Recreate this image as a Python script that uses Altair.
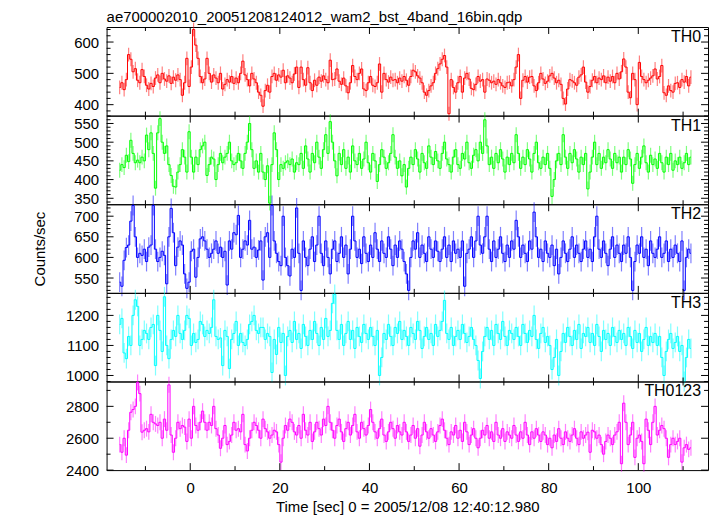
import altair as alt
import pandas as pd

T_START = -15.75
BIN = 0.5

th0 = [
    455, 470, 448, 480, 560, 545, 505, 515, 478, 470, 512, 490, 462, 450, 468, 458,
    485, 495, 470, 500, 482, 475, 492, 468, 488, 478, 495, 480, 430, 470, 548, 458,
    520, 640, 590, 548, 490, 470, 482, 548, 500, 472, 495, 485, 470, 500, 450, 465,
    480, 472, 490, 468, 485, 470, 500, 539, 495, 480, 460, 500, 482, 470, 440, 430,
    395, 445, 462, 440, 490, 500, 478, 495, 488, 510, 470, 492, 485, 470, 498, 520,
    455, 520, 480, 462, 518, 470, 445, 478, 462, 488, 475, 492, 480, 470, 542, 480,
    482, 514, 475, 465, 485, 460, 438, 470, 525, 490, 480, 500, 514, 450, 445, 470,
    490, 462, 458, 470, 530, 440, 500, 480, 472, 488, 478, 480, 470, 485, 475, 490,
    478, 462, 490, 510, 505, 492, 485, 470, 440, 430, 445, 460, 470, 500, 515, 530,
    545, 557, 520, 371, 480, 455, 440, 470, 490, 440, 485, 500, 482, 452, 448, 465,
    490, 475, 480, 440, 482, 478, 470, 475, 465, 480, 470, 460, 455, 470, 472, 460,
    480, 520, 560, 420, 478, 490, 472, 488, 490, 460, 445, 470, 500, 482, 468, 475,
    492, 500, 485, 470, 478, 465, 420, 402, 450, 480, 476, 470, 462, 488, 495, 520,
    472, 440, 458, 478, 490, 470, 485, 480, 492, 470, 488, 475, 490, 470, 500, 482,
    505, 546, 520, 440, 422, 500, 480, 400, 535, 490, 480, 470, 478, 485, 492, 514,
    482, 490, 525, 438, 430, 460, 445, 440, 468, 470, 455, 480, 472, 490, 460, 488,
]
th1 = [
    425, 440, 432, 465, 448, 505, 470, 445, 452, 445, 460, 450, 519, 480, 525, 470,
    377, 525, 563, 500, 470, 490, 440, 411, 382, 380, 420, 440, 480, 460, 420, 528,
    460, 420, 460, 440, 480, 490, 500, 411, 440, 460, 455, 400, 440, 470, 445, 460,
    470, 500, 450, 440, 445, 470, 450, 430, 470, 500, 550, 480, 430, 450, 420, 470,
    420, 400, 437, 337, 440, 525, 480, 400, 440, 430, 445, 450, 440, 455, 420, 445,
    440, 470, 430, 490, 455, 420, 470, 445, 500, 460, 430, 480, 520, 470, 555, 500,
    450, 410, 470, 440, 480, 430, 460, 420, 490, 450, 440, 470, 430, 455, 500, 445,
    420, 470, 450, 395, 440, 480, 460, 430, 445, 470, 520, 460, 430, 450, 410, 440,
    380, 430, 460, 440, 480, 455, 420, 470, 445, 430, 490, 460, 440, 475, 450, 430,
    470, 500, 455, 440, 420, 460, 480, 440, 430, 470, 455, 500, 445, 430, 465, 480,
    450, 500, 470, 560, 490, 440, 460, 430, 470, 445, 480, 455, 420, 460, 440, 470,
    445, 520, 470, 430, 460, 440, 480, 455, 420, 470, 500, 445, 430, 460, 440, 470,
    430, 355, 400, 450, 470, 440, 520, 460, 430, 470, 445, 480, 455, 420, 460, 440,
    470, 375, 420, 460, 500, 440, 470, 430, 460, 445, 480, 455, 430, 470, 445, 460,
    420, 460, 440, 480, 455, 390, 440, 470, 430, 460, 490, 445, 420, 465, 440, 455,
    430, 470, 445, 420, 460, 440, 470, 425, 450, 440, 460, 430, 445, 470, 440, 460,
]
th2 = [
    540, 530, 593, 624, 630, 688, 726, 650, 600, 610, 605, 620, 590, 625, 630, 726,
    620, 590, 600, 615, 605, 536, 650, 719, 660, 580, 625, 640, 630, 560, 525, 540,
    615, 620, 552, 600, 645, 650, 640, 620, 600, 610, 620, 640, 610, 625, 600, 615,
    533, 640, 620, 660, 655, 702, 600, 620, 640, 630, 690, 620, 625, 600, 618, 640,
    545, 650, 660, 600, 726, 640, 610, 590, 580, 700, 600, 580, 555, 620, 600, 720,
    610, 520, 640, 600, 580, 620, 650, 590, 630, 700, 610, 580, 640, 600, 560, 620,
    640, 590, 610, 650, 600, 630, 560, 620, 700, 640, 600, 620, 585, 650, 610, 590,
    630, 600, 660, 620, 590, 640, 610, 600, 650, 620, 580, 630, 600, 640, 620, 590,
    560, 520, 600, 640, 620, 660, 600, 630, 610, 590, 650, 620, 600, 640, 615, 590,
    620, 650, 600, 630, 590, 640, 610, 620, 600, 640, 530, 610, 620, 650, 600, 640,
    700, 630, 610, 650, 700, 620, 590, 640, 600, 620, 650, 610, 590, 630, 600, 640,
    620, 690, 650, 600, 630, 610, 590, 640, 620, 710, 650, 600, 620, 590, 640, 610,
    600, 630, 580, 620, 560, 600, 640, 610, 590, 620, 650, 600, 630, 610, 590, 620,
    640, 600, 620, 590, 650, 700, 620, 600, 640, 610, 580, 620, 650, 600, 630, 610,
    590, 630, 610, 650, 600, 520, 590, 630, 610, 650, 600, 620, 580, 640, 610, 600,
    620, 650, 600, 610, 640, 590, 620, 600, 630, 610, 590, 640, 520, 600, 620, 610,
]
th3 = [
    1170, 1190, 1075, 1056, 1130, 1100, 1200, 1252, 1230, 1100, 1120, 1150, 1140, 1120, 1160, 1170,
    1033, 1200, 1150, 1080, 1262, 1100, 1056, 1120, 1150, 1130, 1200, 1140, 1120, 1150, 1200, 1190,
    1100, 1140, 1110, 1120, 1180, 1170, 1130, 1150, 1140, 1160, 1252, 1130, 1120, 1125, 1033, 1150,
    1130, 1023, 1120, 1140, 1180, 1100, 1140, 1110, 1100, 1120, 1170, 1180, 1200, 1150, 1140, 1160,
    1160, 1120, 1140, 1130, 1010, 1120, 1070, 1160, 1110, 1140, 1000, 1130, 1150, 1110, 1180, 1120,
    1140, 1090, 1170, 1130, 1100, 1150, 1120, 1180, 1140, 1100, 1160, 1120, 1190, 1130, 1150, 1240,
    1270, 1150, 1120, 1170, 1100, 1140, 1180, 1120, 1150, 1090, 1160, 1130, 1110, 1170, 1140, 1120,
    1160, 1130, 1100, 1150, 1000, 1060, 1140, 1120, 1170, 1130, 1100, 1160, 1140, 1180, 1120, 1150,
    1130, 1100, 1160, 1140, 1120, 1180, 1150, 1090, 1130, 1160, 1120, 1140, 1100, 1170, 1130, 1150,
    1180, 1250, 1140, 1120, 1160, 1100, 1130, 1150, 1120, 1170, 1140, 1110, 1130, 1160, 1120, 1100,
    1050, 990, 1080, 1130, 1160, 1120, 1150, 1100, 1170, 1140, 1120, 1180, 1130, 1100, 1150, 1140,
    1120, 1160, 1130, 1100, 1170, 1140, 1110, 1150, 1130, 1200, 1120, 1090, 1140, 1160, 1110, 1130,
    1100, 1020, 1060, 1120, 1000, 1080, 1140, 1110, 1160, 1130, 1100, 1150, 1120, 1170, 1090, 1140,
    1130, 1160, 1110, 1140, 1100, 1170, 1130, 1080, 1150, 1120, 1140, 1100, 1160, 1130, 1110, 1150,
    1120, 1140, 1100, 1160, 1130, 1090, 1150, 1110, 1140, 1080, 1120, 1160, 1100, 1130, 1110, 1140,
    1100, 1130, 1060, 1000, 1080, 1120, 1140, 1090, 1110, 1130, 1080, 1100, 980, 1060, 1120, 1090,
]
th0123 = [
    2560, 2512, 2600, 2494, 2650, 2763, 2780, 2800, 2950, 2880, 2638, 2650, 2660, 2640, 2750, 2700,
    2690, 2680, 2700, 2600, 2720, 2650, 2935, 2620, 2512, 2600, 2700, 2660, 2680, 2670, 2580, 2720,
    2600, 2800, 2680, 2650, 2700, 2770, 2700, 2650, 2700, 2680, 2800, 2660, 2620, 2537, 2600, 2680,
    2560, 2580, 2620, 2700, 2650, 2660, 2640, 2750, 2560, 2520, 2600, 2650, 2700, 2680, 2650, 2600,
    2720, 2660, 2640, 2600, 2620, 2650, 2640, 2560, 2450, 2600, 2680, 2650, 2720, 2700, 2640, 2620,
    2680, 2600, 2750, 2650, 2620, 2700, 2580, 2640, 2700, 2660, 2620, 2720, 2680, 2800, 2700, 2650,
    2600, 2680, 2720, 2640, 2580, 2660, 2700, 2620, 2680, 2750, 2640, 2600, 2700, 2660, 2620, 2680,
    2780, 2700, 2640, 2600, 2660, 2720, 2620, 2580, 2640, 2700, 2660, 2600, 2680, 2640, 2620, 2700,
    2640, 2580, 2620, 2680, 2600, 2660, 2550, 2620, 2700, 2640, 2600, 2660, 2620, 2580, 2640, 2680,
    2720, 2650, 2600, 2560, 2640, 2620, 2680, 2600, 2650, 2580, 2700, 2640, 2560, 2620, 2660, 2600,
    2540, 2600, 2650, 2620, 2680, 2600, 2640, 2580, 2700, 2620, 2600, 2660, 2580, 2640, 2620, 2600,
    2680, 2620, 2580, 2640, 2600, 2700, 2620, 2560, 2640, 2600, 2660, 2620, 2580, 2640, 2620, 2560,
    2600, 2540, 2620, 2580, 2660, 2600, 2560, 2640, 2600, 2580, 2620, 2660, 2600, 2560, 2640, 2600,
    2620, 2638, 2512, 2650, 2640, 2600, 2620, 2560, 2500, 2580, 2620, 2600, 2560, 2620, 2640, 2700,
    2440, 2820, 2700, 2560, 2620, 2700, 2480, 2600, 2620, 2580, 2440, 2720, 2650, 2560, 2700, 2800,
    2620, 2650, 2680, 2660, 2600, 2480, 2560, 2600, 2560, 2580, 2600, 2450, 2540, 2560, 2530, 2540,
]

names = ["TH0", "TH1", "TH2", "TH3", "TH0123"]
series = [th0, th1, th2, th3, th0123]
errors = [22, 20, 24, 33, 50]
colors = ["#ff0000", "#00ff00", "#0000ff", "#00ffff", "#ff00ff"]
y_domains = [[365, 648], [334, 571], [514, 729], [980, 1275], [2400, 2956]]
y_labels = [[400, 500, 600], [350, 400, 450, 500, 550], [550, 600, 650, 700],
            [1000, 1100, 1200], [2400, 2600, 2800]]
y_major_step = [100, 50, 50, 100, 200]
y_minor_step = [20, 10, 10, 20, 100]
x_domain = [-18.67, 115.56]
x_labels = [0, 20, 40, 60, 80, 100]
x_major = [0, 20, 40, 60, 80, 100]
x_minor = [-10, 10, 30, 50, 70, 90, 110]

TITLE = "ae700002010_20051208124012_wam2_bst_4band_16bin.qdp"
XTITLE = "Time [sec] 0 = 2005/12/08 12:40:12.980"
YTITLE = "Counts/sec"
FONT = "Liberation Sans"
W, H = 604, 89
MAJ, MIN = 7, 4


def panel(k):
    last = k == len(series) - 1
    vals = series[k]
    df = pd.DataFrame({"t": [T_START + BIN * i for i in range(len(vals))], "v": vals})
    df["lo"] = df["v"] - errors[k]
    df["hi"] = df["v"] + errors[k]
    lo_d, hi_d = y_domains[k]
    x_lo, x_hi = x_domain
    st = y_minor_step[k]
    all_y = [v for v in range((lo_d // st) * st, hi_d + 1, st) if lo_d <= v <= hi_d]
    y_major = [v for v in all_y if v % y_major_step[k] == 0]
    y_minor = [v for v in all_y if v % y_major_step[k] != 0]
    dx = (x_hi - x_lo) / W   # data units per pixel along x
    dy = (hi_d - lo_d) / H   # data units per pixel along y

    xs = alt.Scale(domain=x_domain, nice=False, zero=False)
    ys = alt.Scale(domain=y_domains[k], nice=False, zero=False)

    x_lab_kw = dict(orient="bottom", values=x_labels, ticks=False, domain=False, format="d",
                    grid=False, labels=last, labelPadding=10, labelFontSize=15, labelFont=FONT,
                    labelColor="black", labelFlush=False, labelOverlap=False)
    if last:
        x_lab_kw.update(title=XTITLE, titleFontSize=15, titleFont=FONT, titleFontWeight="normal",
                        titleColor="black", titlePadding=5)
    else:
        x_lab_kw.update(title=None)

    y_lab_kw = dict(orient="left", values=y_labels[k], ticks=False, domain=False, format="d",
                    grid=False, labelPadding=8, labelFontSize=15, labelFont=FONT,
                    labelColor="black", labelFlush=False, labelOverlap=False)
    if k == 2:
        y_lab_kw.update(title=YTITLE, titleFontSize=15, titleFont=FONT, titleFontWeight="normal",
                        titleColor="black", titlePadding=26)
    else:
        y_lab_kw.update(title=None)

    errs = alt.Chart(df).mark_rule(color=colors[k], opacity=0.5, strokeWidth=1.2).encode(
        x=alt.X("t:Q", scale=xs, axis=alt.Axis(**x_lab_kw)),
        y=alt.Y("lo:Q", scale=ys, axis=alt.Axis(**y_lab_kw)),
        y2="hi:Q",
    )
    line = alt.Chart(df).mark_line(interpolate="step", color=colors[k], strokeWidth=1).encode(
        x=alt.X("t:Q", scale=xs, axis=None),
        y=alt.Y("v:Q", scale=ys, axis=None),
    )
    layers = [errs, line]

    # inward tick marks on all four sides, every end placed through the scales
    for vals_y, size in [(y_major, MAJ), (y_minor, MIN)]:
        tdf = pd.DataFrame({"v": vals_y})
        for a, b in [(x_lo, x_lo + size * dx), (x_hi, x_hi - size * dx)]:
            layers.append(alt.Chart(tdf).mark_rule(color="black", strokeWidth=1).encode(
                y=alt.Y("v:Q", scale=ys, axis=None),
                x=alt.X(datum=a, type="quantitative", scale=xs, axis=None),
                x2=alt.X2(datum=b)))
    for vals_x, size in [(x_major, MAJ), (x_minor, MIN)]:
        tdf = pd.DataFrame({"t": vals_x})
        for a, b in [(lo_d, lo_d + size * dy), (hi_d, hi_d - size * dy)]:
            layers.append(alt.Chart(tdf).mark_rule(color="black", strokeWidth=1).encode(
                x=alt.X("t:Q", scale=xs, axis=None),
                y=alt.Y(datum=a, type="quantitative", scale=ys, axis=None),
                y2=alt.Y2(datum=b)))

    label = alt.Chart(pd.DataFrame({"name": [names[k]]})).mark_text(
        align="right", baseline="alphabetic", fontSize=16, font=FONT, color="black"
    ).encode(x=alt.value(W - 7), y=alt.value(15), text="name:N")
    layers.append(label)

    ch = alt.layer(*layers).resolve_scale(x="independent", y="independent")
    props = dict(width=W, height=H)
    if k == 0:
        props["title"] = alt.TitleParams(text=TITLE, anchor="start", frame="group", fontSize=15,
                                         font=FONT, fontWeight="normal", color="black", offset=-3)
    return ch.properties(**props)


chart = alt.vconcat(*[panel(k) for k in range(len(series))], spacing=0, bounds="flush").properties(
    padding={"left": 24, "top": 0, "right": 0, "bottom": 0}
).configure_view(stroke="black", strokeWidth=1)

chart.save("out.html", embed_options={"renderer": "svg", "actions": False})
